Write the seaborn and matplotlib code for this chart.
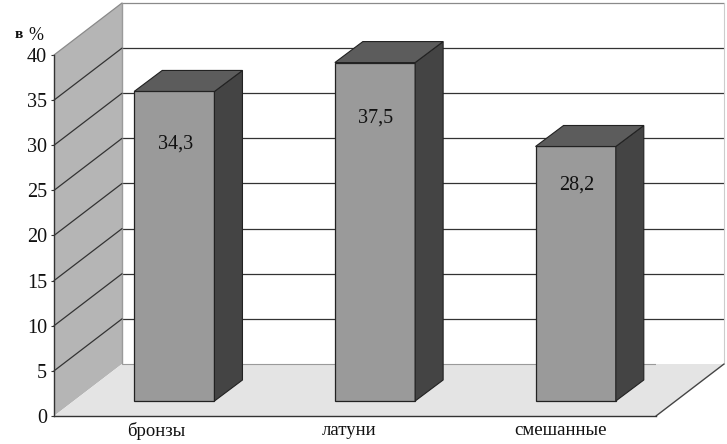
import matplotlib
matplotlib.use('Agg')
import matplotlib.pyplot as plt
from matplotlib.patches import Polygon
from matplotlib.transforms import ScaledTranslation
import pandas as pd
import seaborn as sns

categories = ['бронзы', 'латуни', 'смешанные']
values = [34.3, 37.5, 28.2]
value_labels = ['34,3', '37,5', '28,2']
y_ticks = [0, 5, 10, 15, 20, 25, 30, 35, 40]

sns.set_theme(style='white')
plt.rcParams['font.family'] = ['Liberation Serif', 'DejaVu Serif']

W, H = 727, 444
fig = plt.figure(figsize=(W / 100, H / 100), dpi=100, facecolor='white')
ax = fig.add_axes([54 / W, (H - 416) / H, 602 / W, 361 / H])

df = pd.DataFrame({'type': categories, 'pct': values})
sns.barplot(data=df, x='type', y='pct', color='#9a9a9a', saturation=1, width=0.4,
            edgecolor='#222222', linewidth=0.9, zorder=4, ax=ax)
ax.set_xlim(-0.5, 2.5)
ax.set_ylim(0, 40)
ax.set_xlabel('')
ax.set_ylabel('')
ax.patch.set_visible(False)

# глубина 3D в единицах данных: стенка и столбец
px = 3 / 602
py = 40 / 361
depth_x, depth_y = 68 * px, 52 * py
shift_x, shift_y = 20 * px, 15 * py
bar_dx, bar_dy = 28 * px, 21 * py
x0, x1 = -0.5, 2.5


def poly(points, face, edge='none', lw=0.0, z=1):
    ax.add_patch(Polygon(points, closed=True, facecolor=face, edgecolor=edge,
                         linewidth=lw, zorder=z, clip_on=False))


# левая стенка и пол
poly([(x0, 0), (x0, 40), (x0 + depth_x, 40 + depth_y), (x0 + depth_x, depth_y)], '#b5b5b5', z=1)
poly([(x0, 0), (x1, 0), (x1 + depth_x, depth_y), (x0 + depth_x, depth_y)], '#e4e4e4', z=2)

# сетка на стенках
for t in y_ticks[1:]:
    c = '#8a8a8a' if t == 40 else '#333333'
    ax.plot([x0, x0 + depth_x], [t, t + depth_y], color=c, lw=0.9, zorder=3, clip_on=False)
    ax.plot([x0 + depth_x, x1 + depth_x], [t + depth_y, t + depth_y], color=c, lw=0.9, zorder=1.5,
            clip_on=False)
ax.plot([x0 + depth_x, x0 + depth_x], [depth_y, 40 + depth_y], color='#9a9a9a', lw=1.0, zorder=1.5,
        clip_on=False)
ax.plot([x0 + depth_x, x1 + depth_x], [depth_y, depth_y], color='#9a9a9a', lw=0.8, zorder=3)
ax.plot([x1, x1 + depth_x], [0, depth_y], color='#444444', lw=1.0, zorder=3, clip_on=False)
ax.plot([x1 + depth_x, x1 + depth_x], [depth_y, 40 + depth_y], color='#cccccc', lw=0.8, zorder=1.5,
        clip_on=False)

# боковая и верхняя грани столбцов
for p in ax.patches:
    if p.get_zorder() != 4:
        continue
    p.set_x(p.get_x() + shift_x)
    p.set_y(shift_y)
    p.set_clip_on(False)
    left, right = p.get_x(), p.get_x() + p.get_width()
    bottom, top = p.get_y(), p.get_y() + p.get_height()
    poly([(right, bottom), (right, top), (right + bar_dx, top + bar_dy), (right + bar_dx, bottom + bar_dy)],
         '#444444', '#222222', 0.8, z=5)
    poly([(left, top), (right, top), (right + bar_dx, top + bar_dy), (left + bar_dx, top + bar_dy)],
         '#5c5c5c', '#222222', 0.8, z=5)

# подписи значений
label_drop = [53, 55, 39]
bars = [p for p in ax.patches if p.get_zorder() == 4]
for p, text, drop in zip(bars, value_labels, label_drop):
    ax.annotate(text, (p.get_x() + p.get_width() / 2, p.get_y() + p.get_height()),
                xytext=(1, -drop), textcoords='offset pixels', ha='center', va='center',
                fontsize=14.5, color='#111111', zorder=6, annotation_clip=False)

for s in ['top', 'right']:
    ax.spines[s].set_visible(False)
for s in ['left', 'bottom']:
    ax.spines[s].set_color('#333333')
    ax.spines[s].set_linewidth(1.0)
    ax.spines[s].set_zorder(6)

ax.set_yticks(y_ticks)
ax.set_yticklabels([str(t) for t in y_ticks], fontsize=14.5, color='#111111')
ax.tick_params(axis='y', left=True, length=2, width=0.8, color='#333333', pad=3)
ax.tick_params(axis='x', bottom=False, labelsize=13.5, labelcolor='#111111', pad=-2)

label_nudge = [2, -6, 5]
for lab, n in zip(ax.get_xticklabels(), label_nudge):
    lab.set_transform(lab.get_transform() + ScaledTranslation(n / 100, 0, fig.dpi_scale_trans))

fig.text(15 / W, 1 - 35 / H, 'в', fontsize=11, fontweight='bold', va='center', color='#111111')
fig.text(28 / W, 1 - 35 / H, '%', fontsize=13, va='center', color='#111111')

fig.savefig('out.png', dpi=100)
